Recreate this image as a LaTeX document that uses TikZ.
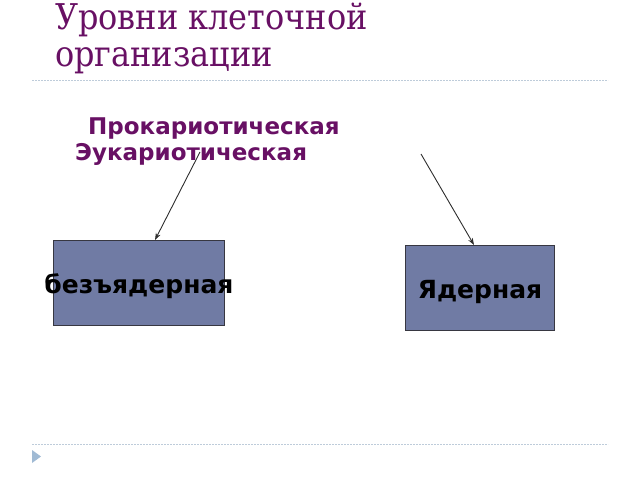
\documentclass[tikz,border=0pt]{standalone}
\usepackage{fontspec}
\setmainfont{DejaVu Sans}
\newfontfamily\titlefont{DejaVu Serif Condensed}
\usetikzlibrary{arrows.meta}
\definecolor{titlepurple}{RGB}{104,16,100}
\definecolor{rulecol}{RGB}{190,204,218}
\definecolor{bulletcol}{RGB}{160,186,212}
\definecolor{boxfill}{RGB}{112,123,164}
\definecolor{boxedge}{RGB}{55,55,65}
\definecolor{arrcol}{RGB}{45,45,45}
\tikzset{
  sep/.style={rulecol, line width=1pt, dash pattern=on 2pt off 1pt},
  levelbox/.style={draw=boxedge, fill=boxfill, line width=1pt, inner sep=0pt},
  boxtext/.style={font=\fontsize{25}{28}\selectfont\bfseries, text=black, anchor=base, inner sep=0pt},
  leveltext/.style={font=\fontsize{23}{26}\selectfont\bfseries, text=titlepurple, anchor=base west, inner sep=0pt},
  arr/.style={arrcol, line width=0.9pt, -{Stealth[length=7pt,width=5pt]}}
}
\begin{document}
\begin{tikzpicture}[x=1pt,y=-1pt]
\useasboundingbox (0,0) rectangle (640,480);
% title
\node[anchor=base west, inner sep=0pt, text=titlepurple, font=\titlefont\fontsize{35.5}{38}\selectfont] (t1) at (55,29) {Уровни клеточной};
\node[anchor=base west, inner sep=0pt, text=titlepurple, font=\titlefont\fontsize{35.5}{38}\selectfont] (t2) at (55,66) {организации};
% separators
\coordinate (r1a) at (32,80); \coordinate (r1b) at (608,80);
\coordinate (r2a) at (32,444); \coordinate (r2b) at (608,444);
\draw[sep] (r1a) -- (r1b);
\draw[sep] (r2a) -- (r2b);
% bullet triangle
\fill[bulletcol] (32,450) -- (41,456.5) -- (32,463) -- cycle;
% labels
\node[leveltext] (pro) at (88,134) {Прокариотическая};
\node[leveltext] (euk) at (75,160) {Эукариотическая};
% boxes
\node[levelbox, minimum width=171pt, minimum height=85pt, anchor=north west] (b1) at (53,240) {};
\node[boxtext] (b1t) at (139,293) {безъядерная};
\node[levelbox, minimum width=149pt, minimum height=85pt, anchor=north west] (b2) at (405,245) {};
\node[boxtext] (b2t) at (480,298) {Ядерная};
% arrows
\coordinate (s1) at (200,152);
\coordinate (s2) at (421,154);
\draw[arr] (s1) -- ([xshift=102pt]b1.north west);
\draw[arr] (s2) -- ([xshift=69pt]b2.north west);
\end{tikzpicture}
\end{document}
